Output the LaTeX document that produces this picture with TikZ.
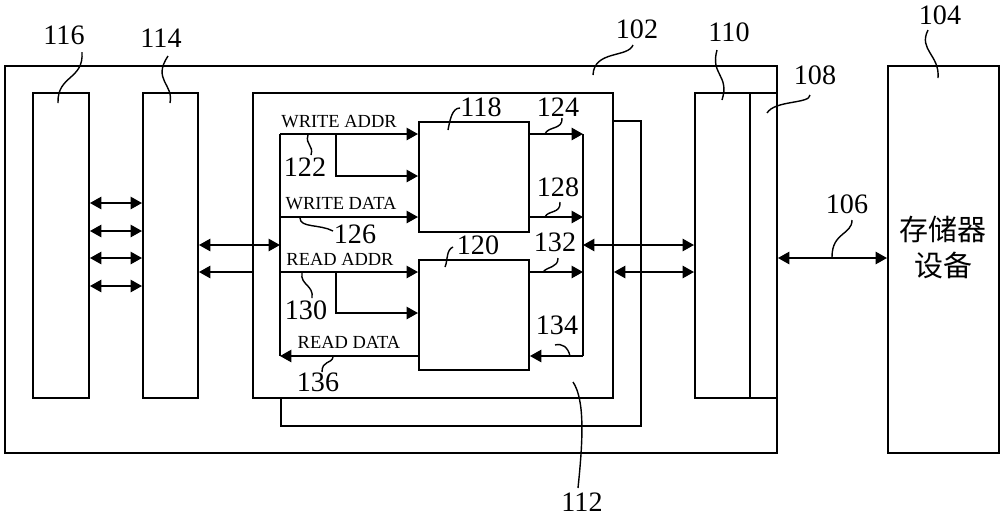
\documentclass[tikz,border=0pt]{standalone}
\usepackage{fontspec}
\setmainfont{Liberation Serif}
\newfontfamily\cjk{Noto Sans CJK SC}
\usetikzlibrary{arrows.meta}

\tikzset{
	blk/.style={draw, line width=1.1pt, fill=white, inner sep=0pt, anchor=north west},
	sz/.style 2 args={minimum width=#1*0.02cm, minimum height=#2*0.02cm},
	wire/.style={line width=1.1pt, -{Triangle[length=6.5pt,width=7pt]}},
	bus/.style={line width=1.1pt, {Triangle[length=6.5pt,width=7pt]}-{Triangle[length=6.5pt,width=7pt]}},
	leader/.style={line width=0.8pt},
	num/.style={font=\fontsize{16}{18}\selectfont, inner sep=1pt},
	sig/.style={font=\fontsize{10.5}{12}\selectfont, inner sep=1pt}
}

\begin{document}
\begin{tikzpicture}[x=0.02cm,y=-0.02cm]
	\useasboundingbox (0,0) rectangle (1000,515);
	% outer blocks
	\node[blk,sz={772}{387}] (sys) at (4,65) {};
	\node[blk,sz={111}{387}] (mem) at (887,65) {};
	\node[font=\cjk\fontsize{16.5}{20.5}\selectfont, align=center] (memtxt) at (943,247) {存储器\\设备};
	% blocks inside 102
	\node[blk,sz={56}{305}] (b116) at (32,92) {};
	\node[blk,sz={55}{305}] (b114) at (142,92) {};
	\node[blk,sz={55}{305}] (b110) at (694,92) {};
	\node[blk,sz={27}{305}] (b108) at (749,92) {};
	\node[blk,sz={360}{305}] (ctlb) at (280,120) {};
	\node[blk,sz={360}{305}] (ctl) at (252,92) {};
	\node[blk,sz={110}{110}] (b118) at (418,121) {};
	\node[blk,sz={110}{110}] (b120) at (418,259) {};
	% signal levels
	\coordinate (wa) at (280,134);
	\coordinate (wd) at (280,217);
	\coordinate (ra) at (280,272);
	\coordinate (rd) at (280,356);
	\coordinate (wab) at (336,176);
	\coordinate (rab) at (336,313);
	\coordinate (rb) at (583,0);
	\coordinate (lk1) at (0,245);
	\coordinate (lk2) at (0,272);
	% left bus
	\draw[line width=1.1pt] (wa) -- (rd);
	\draw[wire] (wa) -- (wa -| b118.west);
	\draw[wire] (wa -| wab) |- (wab -| b118.west);
	\draw[wire] (wd) -- (wd -| b118.west);
	\draw[wire] (ra) -- (ra -| b120.west);
	\draw[wire] (ra -| rab) |- (rab -| b120.west);
	\draw[wire] (rd -| b120.west) -- (rd);
	% right bus
	\draw[line width=1.1pt] (wa -| rb) -- (rd -| rb);
	\draw[wire] (wa -| b118.east) -- (wa -| rb);
	\draw[wire] (wd -| b118.east) -- (wd -| rb);
	\draw[wire] (ra -| b120.east) -- (ra -| rb);
	\draw[wire] (rd -| rb) -- (rd -| b120.east);
	% links between blocks
	\foreach \y in {203,231,258,286}
		\draw[bus] (b116.east |- 0,\y) -- (b114.west |- 0,\y);
	\draw[bus] (b114.east |- lk1) -- (wa |- lk1);
	\draw[wire] (ctl.west |- lk2) -- (b114.east |- lk2);
	\draw[bus] (rb |- lk1) -- (b110.west |- lk1);
	\draw[bus] (ctl.east |- lk2) -- (b110.west |- lk2);
	\draw[bus] (b108.east |- 0,258) -- (mem.west |- 0,258);
	% signal names
	\node[sig] (twa) at (339,122) {WRITE ADDR};
	\node[sig] (twd) at (341,204) {WRITE DATA};
	\node[sig] (tra) at (340,259) {READ ADDR};
	\node[sig] (trd) at (349,342) {READ DATA};
	% reference numbers
	\foreach \n/\x/\y in {116/64/35, 114/161/38, 102/637/29, 110/729/32, 108/815/75,
		104/940/15, 106/847/204, 112/582/502, 118/481/107, 124/558/107, 128/558/187,
		122/305/167, 126/355/234, 120/478/245, 132/555/242, 130/306/310, 134/557/325, 136/318/382}
		\node[num] (n\n) at (\x,\y) {\n};
	% leaders
	\draw[leader] (82,52) .. controls (84,80) and (57,75) .. (58,103);
	\draw[leader] (168,56) .. controls (152,80) and (174,84) .. (170,103);
	\draw[leader] (633,45) .. controls (628,58) and (594,50) .. (593,75);
	\draw[leader] (717,50) .. controls (710,75) and (730,75) .. (722,100);
	\draw[leader] (810,95) .. controls (810,104) and (775,100) .. (767,113);
	\draw[leader] (928,30) .. controls (918,50) and (940,55) .. (938,78);
	\draw[leader] (852,220) .. controls (852,235) and (832,232) .. (832,257);
	\draw[leader] (460,108) .. controls (452,108) and (450,120) .. (448,130);
	\draw[leader] (562,118) .. controls (563,130) and (548,126) .. (545,134);
	\draw[leader] (560,202) .. controls (561,214) and (548,210) .. (545,217);
	\draw[leader] (308,135) .. controls (305,145) and (314,145) .. (311,155);
	\draw[leader] (300,218) .. controls (300,228) and (320,224) .. (333,231);
	\draw[leader] (453,247) .. controls (446,250) and (448,260) .. (445,267);
	\draw[leader] (558,258) .. controls (558,268) and (548,266) .. (543,272);
	\draw[leader] (302,273) .. controls (300,285) and (314,285) .. (312,298);
	\draw[leader] (555,345) .. controls (562,343) and (568,347) .. (570,356);
	\draw[leader] (333,357) .. controls (332,364) and (322,360) .. (322,372);
	\draw[leader] (573,382) .. controls (585,400) and (583,440) .. (578,488);
\end{tikzpicture}
\end{document}
